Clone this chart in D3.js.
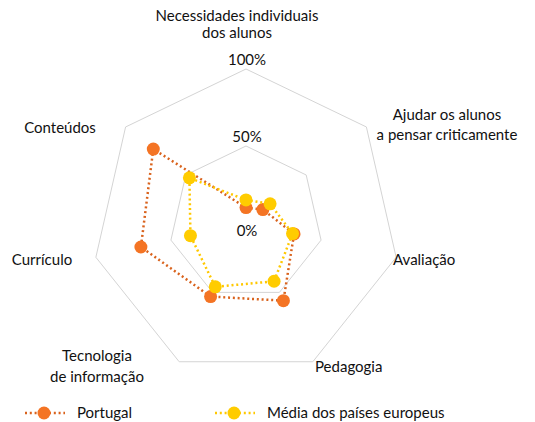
<!DOCTYPE html>
<html lang="pt">
<head>
  <meta charset="UTF-8">
  <title>Radar</title>
  <script src="https://d3js.org/d3.v7.min.js"></script>
  <style>
    body { margin: 0; padding: 0; background: #fff; font-family: Lato, "Open Sans", sans-serif; }
    svg { display: block; }
    text { fill: #111; font-size: 15px; }
  </style>
</head>
<body>
  <svg width="535" height="422"></svg>
  <script>
    const categories = [
      ["Necessidades individuais", "dos alunos"],
      ["Ajudar os alunos", "a pensar criticamente"],
      ["Avaliação"],
      ["Pedagogia"],
      ["Tecnologia", "de informação"],
      ["Currículo"],
      ["Conteúdos"]
    ];
    const portugal = [10, 14, 32, 56, 53, 70, 77];
    const europa = [15, 20, 31, 42, 46, 37, 47];
    const seriesNames = ["Portugal", "Média dos países europeus"];
    const ticks = [0, 50, 100];

    const svg = d3.select("svg");
    const cx = 246, cy = 223, R = 154;
    const n = categories.length;

    const r = d3.scaleLinear().domain([0, 100]).range([0, R]);
    const angle = d3.scaleLinear().domain([0, n]).range([0, 2 * Math.PI]);

    const g = svg.append("g").attr("transform", `translate(${cx},${cy})`);

    const radial = d3.lineRadial()
      .angle((d, i) => angle(i))
      .radius(d => r(d))
      .curve(d3.curveLinearClosed);

    // grid
    ticks.filter(t => t > 0).forEach(t => {
      g.append("path")
        .attr("d", radial(d3.range(n).map(() => t)))
        .attr("fill", "none")
        .attr("stroke", "#d4d4d4")
        .attr("stroke-width", 1);
    });

    // tick labels
    g.selectAll(".tick")
      .data(ticks)
      .join("text")
      .attr("x", 1)
      .attr("y", d => d === 0 ? 13 : -r(d) - 4)
      .attr("text-anchor", "middle")
      .text(d => d + "%");

    // category labels
    const labelPos = [
      [-9, -202, "middle", 16.5],
      [201, -103, "middle", 20],
      [147, 42, "start", 0],
      [69, 149, "start", 0],
      [-149, 138, "middle", 21],
      [-204, 42, "middle", 0],
      [-186, -90, "middle", 0]
    ];
    categories.forEach((lines, i) => {
      const [x, y, anchor, lh] = labelPos[i];
      const t = g.append("text")
        .attr("text-anchor", anchor)
        .attr("x", x)
        .attr("y", y);
      lines.forEach((l, j) => {
        t.append("tspan").attr("x", x).attr("dy", j === 0 ? 0 : lh).text(l);
      });
    });

    const pt = (v, i) => [r(v) * Math.sin(angle(i)), -r(v) * Math.cos(angle(i))];

    const series = [
      { values: portugal, line: "#d9621c", dot: "#f47424" },
      { values: europa, line: "#ffc800", dot: "#ffcc00" }
    ];

    series.forEach(s => {
      g.append("path")
        .attr("d", radial(s.values))
        .attr("fill", "none")
        .attr("stroke", s.line)
        .attr("stroke-width", 2.5)
        .attr("stroke-dasharray", "2,2.8");
      g.selectAll(null)
        .data(s.values)
        .join("circle")
        .attr("cx", (d, i) => pt(d, i)[0])
        .attr("cy", (d, i) => pt(d, i)[1])
        .attr("r", 6.5)
        .attr("fill", s.dot);
    });

    // legend
    const legendX = [25, 215];
    series.forEach((s, i) => {
      const lg = svg.append("g").attr("transform", `translate(${legendX[i]},413)`);
      lg.append("line")
        .attr("x1", 0).attr("x2", 40)
        .attr("stroke", s.line)
        .attr("stroke-width", 2.5)
        .attr("stroke-dasharray", "2,2.8");
      lg.append("circle").attr("cx", 19).attr("r", 6.5).attr("fill", s.dot);
      lg.append("text").attr("x", 52).attr("y", 5).text(seriesNames[i]);
    });
  </script>
</body>
</html>
